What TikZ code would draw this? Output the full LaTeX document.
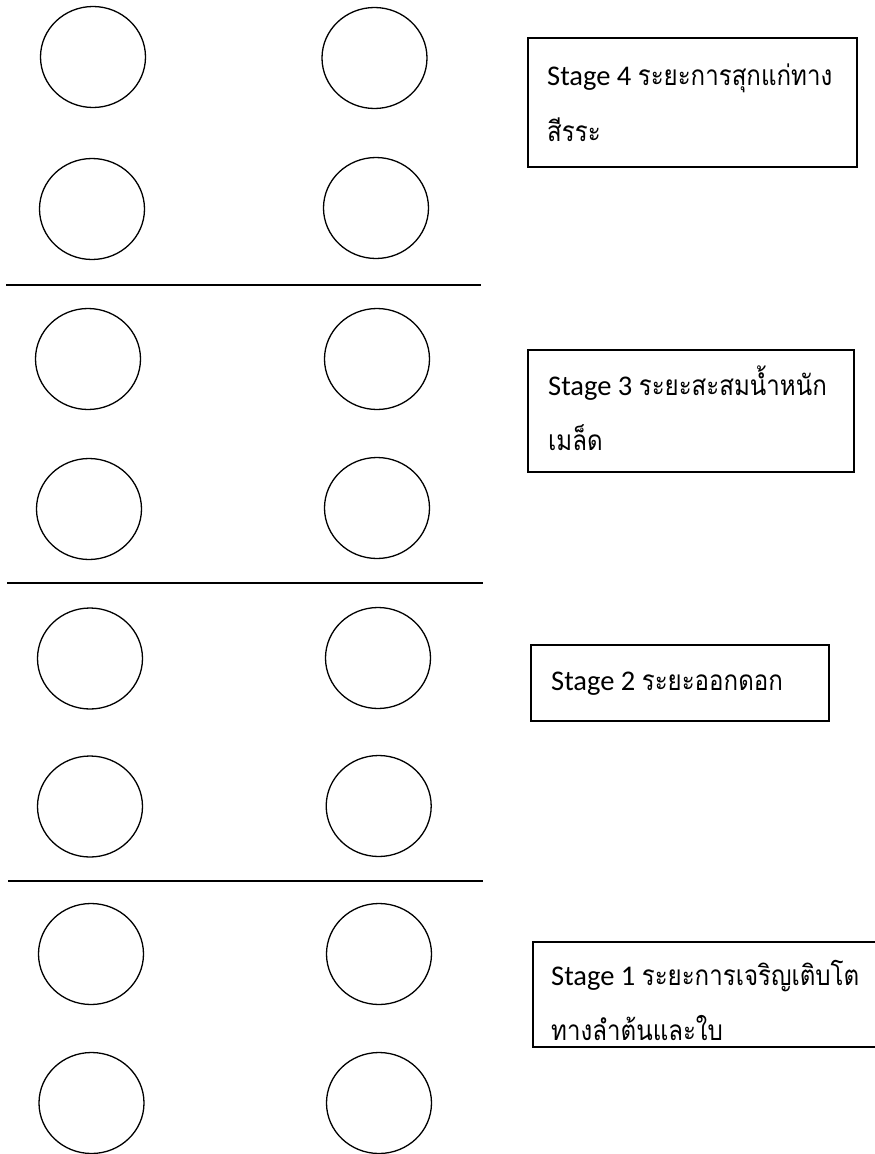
\documentclass[tikz,border=0pt]{standalone}
\usepackage{fontspec}
\setmainfont{Carlito}
\newfontfamily\thaifont[Script=Thai, FakeStretch=0.86]{Loma}
\usetikzlibrary{shapes.geometric}
\tikzset{
  x=1pt, y=-1pt,
  seed/.style={draw=black, line width=1.3pt, ellipse, inner sep=0pt, minimum width=105pt, minimum height=101pt},
  divider/.style={draw=black, line width=2pt},
  stagebox/.style={draw=black, line width=1.5pt, rectangle, inner sep=0pt, anchor=north west},
  stagetext/.style={anchor=base west, inner sep=0pt, font=\fontsize{28.5}{34}\selectfont},
}
\newcommand{\thaitxt}[1]{{\thaifont\fontsize{28}{34}\selectfont #1}}
\begin{document}
\begin{tikzpicture}
\useasboundingbox (0,0) rectangle (875,1154);
\clip (0,0) rectangle (875,1154);
\fill[white] (0,0) rectangle (875,1154);
% Group 4
\node[seed] (c4a) at (93,57) {};
\node[seed] (c4b) at (374.5,58) {};
\node[seed] (c4c) at (92,209) {};
\node[seed] (c4d) at (376,208) {};
% Group 3
\node[seed] (c3a) at (88,359) {};
\node[seed] (c3b) at (377,359) {};
\node[seed] (c3c) at (89,509) {};
\node[seed] (c3d) at (377,508) {};
% Group 2
\node[seed] (c2a) at (90,658.5) {};
\node[seed] (c2b) at (378,658) {};
\node[seed] (c2c) at (90,806.5) {};
\node[seed] (c2d) at (378.7,806) {};
% Group 1
\node[seed] (c1a) at (91,954) {};
\node[seed] (c1b) at (379,954) {};
\node[seed] (c1c) at (91.5,1103) {};
\node[seed] (c1d) at (379,1103) {};
% Dividers
\coordinate (l1a) at (6,285); \coordinate (l1b) at (481,285);
\coordinate (l2a) at (7,582.5); \coordinate (l2b) at (483,582.5);
\coordinate (l3a) at (8,880.5); \coordinate (l3b) at (483,880.5);
\draw[divider] (l1a) -- (l1b);
\draw[divider] (l2a) -- (l2b);
\draw[divider] (l3a) -- (l3b);
% Stage boxes
\node[stagebox, minimum width=329pt, minimum height=129pt] (b4) at (527,37) {};
\node[stagetext] (t4a) at (547,85) {Stage 4 \thaitxt{ระยะการสุกแก่ทาง}};
\node[stagetext] (t4b) at (547,141) {\thaitxt{สีรระ}};
\node[stagebox, minimum width=326pt, minimum height=122pt] (b3) at (527,349) {};
\node[stagetext] (t3a) at (548,395) {Stage 3 \thaitxt{ระยะสะสมน้ำหนัก}};
\node[stagetext] (t3b) at (548,450) {\thaitxt{เมล็ด}};
\node[stagebox, minimum width=298pt, minimum height=76pt] (b2) at (530,644) {};
\node[stagetext] (t2a) at (551,690) {Stage 2 \thaitxt{ระยะออกดอก}};
\node[stagebox, minimum width=360pt, minimum height=105pt] (b1) at (532,941) {};
\node[stagetext] (t1a) at (551,985) {Stage 1 \thaitxt{ระยะการเจริญเติบโต}};
\node[stagetext] (t1b) at (551,1040) {\thaitxt{ทางลำต้นและใบ}};
\end{tikzpicture}
\end{document}
